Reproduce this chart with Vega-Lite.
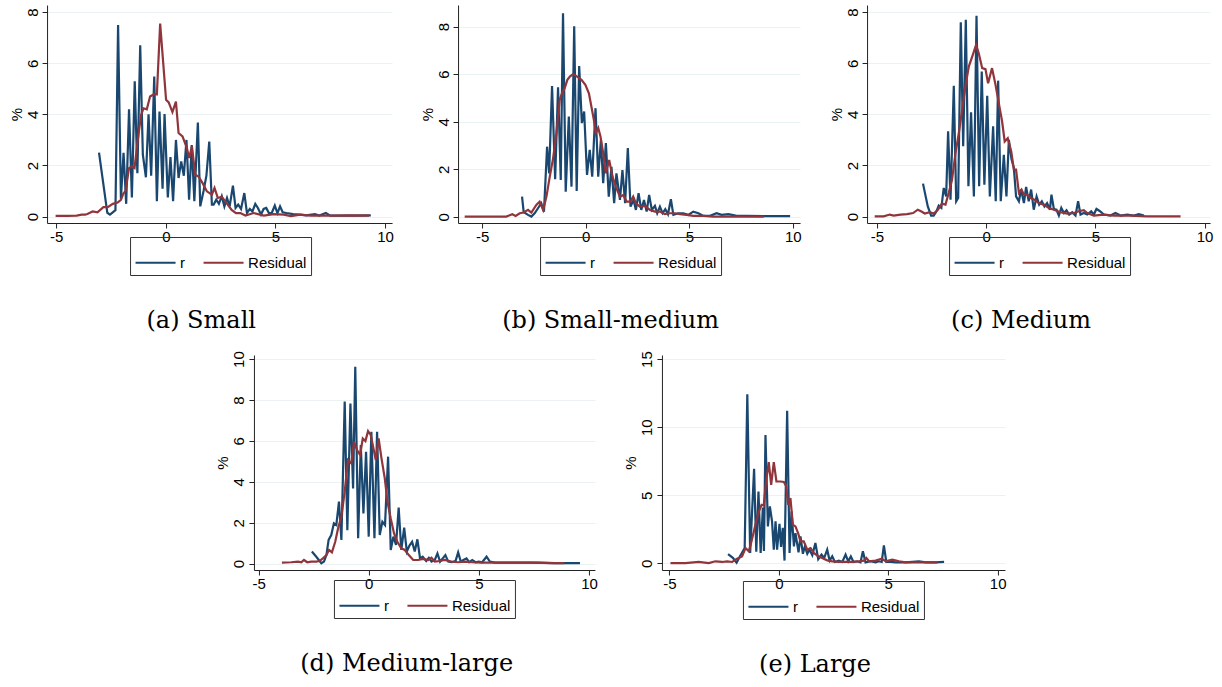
{
  "$schema": "https://vega.github.io/schema/vega-lite/v6.json",
  "background": "white",
  "padding": {"left": 9, "top": 5, "right": 2, "bottom": 2},
  "datasets": {
    "a": [
      {"s":"r","x":-3.05,"y":2.5},{"s":"r","x":-2.67,"y":0.15},{"s":"r","x":-2.55,"y":0.08},{"s":"r","x":-2.3,"y":0.25},{"s":"r","x":-2.18,"y":7.5},{"s":"r","x":-2.05,"y":0.7},{"s":"r","x":-1.93,"y":2.5},{"s":"r","x":-1.81,"y":0.5},{"s":"r","x":-1.68,"y":4.2},{"s":"r","x":-1.55,"y":0.75},{"s":"r","x":-1.42,"y":5.3},{"s":"r","x":-1.3,"y":1.7},{"s":"r","x":-1.17,"y":6.7},{"s":"r","x":-1.05,"y":2.42},{"s":"r","x":-0.91,"y":1.54},{"s":"r","x":-0.79,"y":4.0},{"s":"r","x":-0.67,"y":1.6},{"s":"r","x":-0.53,"y":5.48},{"s":"r","x":-0.41,"y":0.6},{"s":"r","x":-0.29,"y":4.11},{"s":"r","x":-0.15,"y":1.09},{"s":"r","x":-0.06,"y":4.01},{"s":"r","x":0.09,"y":0.75},{"s":"r","x":0.21,"y":2.33},{"s":"r","x":0.33,"y":0.6},{"s":"r","x":0.46,"y":3.0},{"s":"r","x":0.58,"y":1.51},{"s":"r","x":0.7,"y":2.16},{"s":"r","x":0.82,"y":1.6},{"s":"r","x":0.94,"y":3.0},{"s":"r","x":1.06,"y":0.66},{"s":"r","x":1.18,"y":2.8},{"s":"r","x":1.3,"y":0.6},{"s":"r","x":1.46,"y":3.68},{"s":"r","x":1.57,"y":0.4},{"s":"r","x":1.72,"y":1.0},{"s":"r","x":1.85,"y":1.6},{"s":"r","x":1.98,"y":2.94},{"s":"r","x":2.1,"y":0.47},{"s":"r","x":2.18,"y":0.47},{"s":"r","x":2.3,"y":0.66},{"s":"r","x":2.42,"y":0.5},{"s":"r","x":2.55,"y":0.8},{"s":"r","x":2.67,"y":0.4},{"s":"r","x":2.79,"y":0.73},{"s":"r","x":2.91,"y":0.4},{"s":"r","x":3.06,"y":1.21},{"s":"r","x":3.18,"y":0.34},{"s":"r","x":3.3,"y":0.47},{"s":"r","x":3.43,"y":0.3},{"s":"r","x":3.58,"y":0.92},{"s":"r","x":3.7,"y":0.14},{"s":"r","x":3.83,"y":0.3},{"s":"r","x":3.95,"y":0.2},{"s":"r","x":4.08,"y":0.5},{"s":"r","x":4.2,"y":0.34},{"s":"r","x":4.34,"y":0.08},{"s":"r","x":4.46,"y":0.3},{"s":"r","x":4.58,"y":0.34},{"s":"r","x":4.7,"y":0.14},{"s":"r","x":4.83,"y":0.14},{"s":"r","x":4.97,"y":0.43},{"s":"r","x":5.09,"y":0.14},{"s":"r","x":5.21,"y":0.4},{"s":"r","x":5.33,"y":0.17},{"s":"r","x":5.5,"y":0.14},{"s":"r","x":5.8,"y":0.1},{"s":"r","x":6.1,"y":0.08},{"s":"r","x":6.4,"y":0.05},{"s":"r","x":6.8,"y":0.1},{"s":"r","x":7.0,"y":0.04},{"s":"r","x":7.3,"y":0.14},{"s":"r","x":7.5,"y":0.04},{"s":"r","x":8.0,"y":0.04},{"s":"r","x":8.6,"y":0.04},{"s":"r","x":9.35,"y":0.05},
      {"s":"Residual","x":-5.03,"y":0.03},{"s":"Residual","x":-4.5,"y":0.03},{"s":"Residual","x":-4.07,"y":0.04},{"s":"Residual","x":-3.84,"y":0.08},{"s":"Residual","x":-3.68,"y":0.08},{"s":"Residual","x":-3.58,"y":0.1},{"s":"Residual","x":-3.34,"y":0.2},{"s":"Residual","x":-3.12,"y":0.17},{"s":"Residual","x":-2.85,"y":0.37},{"s":"Residual","x":-2.65,"y":0.37},{"s":"Residual","x":-2.42,"y":0.5},{"s":"Residual","x":-2.2,"y":0.55},{"s":"Residual","x":-2.05,"y":0.66},{"s":"Residual","x":-1.94,"y":0.9},{"s":"Residual","x":-1.84,"y":1.0},{"s":"Residual","x":-1.68,"y":1.9},{"s":"Residual","x":-1.56,"y":1.97},{"s":"Residual","x":-1.43,"y":1.9},{"s":"Residual","x":-1.3,"y":2.88},{"s":"Residual","x":-1.13,"y":3.98},{"s":"Residual","x":-1.02,"y":4.24},{"s":"Residual","x":-0.87,"y":4.2},{"s":"Residual","x":-0.72,"y":4.7},{"s":"Residual","x":-0.56,"y":4.78},{"s":"Residual","x":-0.41,"y":4.78},{"s":"Residual","x":-0.26,"y":7.55},{"s":"Residual","x":0.01,"y":4.57},{"s":"Residual","x":0.13,"y":4.47},{"s":"Residual","x":0.3,"y":4.09},{"s":"Residual","x":0.46,"y":4.5},{"s":"Residual","x":0.58,"y":3.27},{"s":"Residual","x":0.76,"y":3.14},{"s":"Residual","x":0.96,"y":2.68},{"s":"Residual","x":1.06,"y":2.29},{"s":"Residual","x":1.19,"y":2.75},{"s":"Residual","x":1.34,"y":1.64},{"s":"Residual","x":1.49,"y":1.57},{"s":"Residual","x":1.67,"y":1.32},{"s":"Residual","x":1.87,"y":0.99},{"s":"Residual","x":2.1,"y":0.86},{"s":"Residual","x":2.22,"y":1.12},{"s":"Residual","x":2.37,"y":0.73},{"s":"Residual","x":2.55,"y":0.78},{"s":"Residual","x":2.78,"y":0.52},{"s":"Residual","x":3.0,"y":0.26},{"s":"Residual","x":3.2,"y":0.14},{"s":"Residual","x":3.4,"y":0.14},{"s":"Residual","x":3.63,"y":0.04},{"s":"Residual","x":4.0,"y":0.14},{"s":"Residual","x":4.47,"y":0.04},{"s":"Residual","x":4.92,"y":0.1},{"s":"Residual","x":5.38,"y":0.08},{"s":"Residual","x":5.7,"y":0.02},{"s":"Residual","x":6.14,"y":0.08},{"s":"Residual","x":6.6,"y":0.04},{"s":"Residual","x":7.67,"y":0.04},{"s":"Residual","x":8.43,"y":0.05},{"s":"Residual","x":9.27,"y":0.04}
    ],
    "b": [
      {"s":"r","x":-3.08,"y":0.85},{"s":"r","x":-3.0,"y":0.2},{"s":"r","x":-2.79,"y":0.08},{"s":"r","x":-2.63,"y":0.01},{"s":"r","x":-2.47,"y":0.15},{"s":"r","x":-2.31,"y":0.36},{"s":"r","x":-2.15,"y":0.57},{"s":"r","x":-2.02,"y":0.22},{"s":"r","x":-1.87,"y":2.95},{"s":"r","x":-1.77,"y":1.83},{"s":"r","x":-1.63,"y":5.5},{"s":"r","x":-1.48,"y":1.58},{"s":"r","x":-1.34,"y":5.45},{"s":"r","x":-1.21,"y":1.55},{"s":"r","x":-1.1,"y":8.56},{"s":"r","x":-0.97,"y":1.06},{"s":"r","x":-0.82,"y":4.22},{"s":"r","x":-0.69,"y":1.27},{"s":"r","x":-0.56,"y":8.02},{"s":"r","x":-0.44,"y":1.09},{"s":"r","x":-0.32,"y":6.34},{"s":"r","x":-0.19,"y":3.94},{"s":"r","x":-0.08,"y":4.43},{"s":"r","x":0.06,"y":1.76},{"s":"r","x":0.19,"y":2.82},{"s":"r","x":0.31,"y":1.69},{"s":"r","x":0.47,"y":4.57},{"s":"r","x":0.6,"y":1.69},{"s":"r","x":0.73,"y":3.24},{"s":"r","x":0.84,"y":1.41},{"s":"r","x":0.97,"y":3.1},{"s":"r","x":1.11,"y":0.85},{"s":"r","x":1.24,"y":2.1},{"s":"r","x":1.37,"y":0.57},{"s":"r","x":1.48,"y":1.83},{"s":"r","x":1.65,"y":0.71},{"s":"r","x":1.77,"y":1.97},{"s":"r","x":1.9,"y":0.57},{"s":"r","x":2.03,"y":2.89},{"s":"r","x":2.16,"y":0.43},{"s":"r","x":2.31,"y":0.71},{"s":"r","x":2.42,"y":0.29},{"s":"r","x":2.55,"y":0.99},{"s":"r","x":2.68,"y":0.29},{"s":"r","x":2.81,"y":0.71},{"s":"r","x":2.94,"y":0.22},{"s":"r","x":3.06,"y":0.92},{"s":"r","x":3.19,"y":0.29},{"s":"r","x":3.34,"y":0.46},{"s":"r","x":3.45,"y":0.15},{"s":"r","x":3.58,"y":0.43},{"s":"r","x":3.71,"y":0.15},{"s":"r","x":3.84,"y":0.32},{"s":"r","x":3.97,"y":0.11},{"s":"r","x":4.11,"y":0.74},{"s":"r","x":4.23,"y":0.08},{"s":"r","x":4.47,"y":0.15},{"s":"r","x":4.71,"y":0.15},{"s":"r","x":4.95,"y":0.08},{"s":"r","x":5.19,"y":0.22},{"s":"r","x":5.44,"y":0.15},{"s":"r","x":5.68,"y":0.04},{"s":"r","x":6.0,"y":0.04},{"s":"r","x":6.32,"y":0.15},{"s":"r","x":6.56,"y":0.08},{"s":"r","x":6.89,"y":0.11},{"s":"r","x":7.29,"y":0.04},{"s":"r","x":7.77,"y":0.04},{"s":"r","x":8.74,"y":0.03},{"s":"r","x":9.87,"y":0.03},
      {"s":"Residual","x":-5.85,"y":0.01},{"s":"Residual","x":-3.84,"y":0.01},{"s":"Residual","x":-3.55,"y":0.11},{"s":"Residual","x":-3.39,"y":0.04},{"s":"Residual","x":-3.19,"y":0.15},{"s":"Residual","x":-3.0,"y":0.18},{"s":"Residual","x":-2.79,"y":0.29},{"s":"Residual","x":-2.63,"y":0.18},{"s":"Residual","x":-2.39,"y":0.5},{"s":"Residual","x":-2.23,"y":0.64},{"s":"Residual","x":-2.06,"y":0.29},{"s":"Residual","x":-1.9,"y":0.85},{"s":"Residual","x":-1.74,"y":1.69},{"s":"Residual","x":-1.58,"y":2.46},{"s":"Residual","x":-1.42,"y":3.52},{"s":"Residual","x":-1.26,"y":4.92},{"s":"Residual","x":-1.15,"y":5.2},{"s":"Residual","x":-1.02,"y":5.41},{"s":"Residual","x":-0.89,"y":5.76},{"s":"Residual","x":-0.77,"y":5.9},{"s":"Residual","x":-0.61,"y":6.0},{"s":"Residual","x":-0.42,"y":5.9},{"s":"Residual","x":-0.21,"y":5.76},{"s":"Residual","x":-0.02,"y":5.55},{"s":"Residual","x":0.15,"y":5.2},{"s":"Residual","x":0.27,"y":4.64},{"s":"Residual","x":0.39,"y":4.08},{"s":"Residual","x":0.48,"y":3.52},{"s":"Residual","x":0.6,"y":3.74},{"s":"Residual","x":0.71,"y":3.38},{"s":"Residual","x":0.84,"y":2.68},{"s":"Residual","x":0.97,"y":1.83},{"s":"Residual","x":1.13,"y":2.39},{"s":"Residual","x":1.29,"y":1.69},{"s":"Residual","x":1.45,"y":1.27},{"s":"Residual","x":1.65,"y":0.85},{"s":"Residual","x":1.81,"y":0.92},{"s":"Residual","x":1.97,"y":0.64},{"s":"Residual","x":2.16,"y":0.64},{"s":"Residual","x":2.29,"y":0.85},{"s":"Residual","x":2.42,"y":0.57},{"s":"Residual","x":2.61,"y":0.43},{"s":"Residual","x":2.85,"y":0.46},{"s":"Residual","x":3.1,"y":0.29},{"s":"Residual","x":3.34,"y":0.22},{"s":"Residual","x":3.58,"y":0.22},{"s":"Residual","x":3.82,"y":0.11},{"s":"Residual","x":4.06,"y":0.15},{"s":"Residual","x":4.31,"y":0.15},{"s":"Residual","x":4.55,"y":0.11},{"s":"Residual","x":4.87,"y":0.08},{"s":"Residual","x":5.19,"y":0.04},{"s":"Residual","x":5.68,"y":0.04},{"s":"Residual","x":6.16,"y":0.01},{"s":"Residual","x":6.81,"y":0.01},{"s":"Residual","x":7.45,"y":0.01},{"s":"Residual","x":8.6,"y":0.01}
    ],
    "c": [
      {"s":"r","x":-2.89,"y":1.29},{"s":"r","x":-2.67,"y":0.4},{"s":"r","x":-2.52,"y":0.04},{"s":"r","x":-2.4,"y":0.04},{"s":"r","x":-2.27,"y":0.21},{"s":"r","x":-2.17,"y":0.43},{"s":"r","x":-2.05,"y":0.34},{"s":"r","x":-1.94,"y":1.12},{"s":"r","x":-1.83,"y":0.79},{"s":"r","x":-1.74,"y":3.34},{"s":"r","x":-1.63,"y":0.66},{"s":"r","x":-1.48,"y":5.12},{"s":"r","x":-1.37,"y":0.6},{"s":"r","x":-1.28,"y":0.73},{"s":"r","x":-1.16,"y":7.6},{"s":"r","x":-1.05,"y":2.75},{"s":"r","x":-0.93,"y":7.7},{"s":"r","x":-0.81,"y":1.19},{"s":"r","x":-0.69,"y":4.08},{"s":"r","x":-0.56,"y":0.79},{"s":"r","x":-0.44,"y":7.86},{"s":"r","x":-0.32,"y":1.19},{"s":"r","x":-0.2,"y":5.68},{"s":"r","x":-0.08,"y":1.25},{"s":"r","x":0.05,"y":4.73},{"s":"r","x":0.17,"y":0.79},{"s":"r","x":0.32,"y":3.53},{"s":"r","x":0.44,"y":0.6},{"s":"r","x":0.55,"y":5.32},{"s":"r","x":0.67,"y":0.6},{"s":"r","x":0.81,"y":2.42},{"s":"r","x":0.93,"y":0.79},{"s":"r","x":1.04,"y":3.0},{"s":"r","x":1.16,"y":2.25},{"s":"r","x":1.27,"y":1.9},{"s":"r","x":1.37,"y":0.79},{"s":"r","x":1.5,"y":0.6},{"s":"r","x":1.6,"y":1.06},{"s":"r","x":1.73,"y":0.53},{"s":"r","x":1.83,"y":1.16},{"s":"r","x":1.95,"y":0.6},{"s":"r","x":2.06,"y":1.06},{"s":"r","x":2.18,"y":0.27},{"s":"r","x":2.31,"y":0.79},{"s":"r","x":2.43,"y":0.47},{"s":"r","x":2.55,"y":0.6},{"s":"r","x":2.67,"y":0.4},{"s":"r","x":2.79,"y":0.53},{"s":"r","x":2.92,"y":0.27},{"s":"r","x":2.99,"y":0.86},{"s":"r","x":3.1,"y":0.3},{"s":"r","x":3.22,"y":0.27},{"s":"r","x":3.33,"y":0.04},{"s":"r","x":3.44,"y":0.34},{"s":"r","x":3.56,"y":0.14},{"s":"r","x":3.68,"y":0.25},{"s":"r","x":3.8,"y":0.08},{"s":"r","x":3.94,"y":0.17},{"s":"r","x":4.09,"y":0.04},{"s":"r","x":4.21,"y":0.6},{"s":"r","x":4.32,"y":0.08},{"s":"r","x":4.47,"y":0.14},{"s":"r","x":4.63,"y":0.08},{"s":"r","x":4.81,"y":0.21},{"s":"r","x":4.93,"y":0.08},{"s":"r","x":5.05,"y":0.3},{"s":"r","x":5.21,"y":0.21},{"s":"r","x":5.39,"y":0.08},{"s":"r","x":5.69,"y":0.04},{"s":"r","x":5.92,"y":0.14},{"s":"r","x":6.15,"y":0.04},{"s":"r","x":6.46,"y":0.08},{"s":"r","x":6.76,"y":0.04},{"s":"r","x":6.99,"y":0.1},{"s":"r","x":7.22,"y":0.04},
      {"s":"Residual","x":-5.1,"y":0.01},{"s":"Residual","x":-4.69,"y":0.01},{"s":"Residual","x":-4.41,"y":0.08},{"s":"Residual","x":-4.23,"y":0.04},{"s":"Residual","x":-3.92,"y":0.08},{"s":"Residual","x":-3.62,"y":0.1},{"s":"Residual","x":-3.34,"y":0.14},{"s":"Residual","x":-3.13,"y":0.27},{"s":"Residual","x":-2.98,"y":0.21},{"s":"Residual","x":-2.81,"y":0.12},{"s":"Residual","x":-2.58,"y":0.17},{"s":"Residual","x":-2.4,"y":0.12},{"s":"Residual","x":-2.21,"y":0.27},{"s":"Residual","x":-2.02,"y":0.51},{"s":"Residual","x":-1.86,"y":0.47},{"s":"Residual","x":-1.71,"y":0.93},{"s":"Residual","x":-1.56,"y":1.45},{"s":"Residual","x":-1.4,"y":2.49},{"s":"Residual","x":-1.25,"y":3.27},{"s":"Residual","x":-1.1,"y":4.18},{"s":"Residual","x":-0.95,"y":5.09},{"s":"Residual","x":-0.79,"y":5.88},{"s":"Residual","x":-0.61,"y":6.33},{"s":"Residual","x":-0.46,"y":6.72},{"s":"Residual","x":-0.34,"y":6.4},{"s":"Residual","x":-0.18,"y":5.81},{"s":"Residual","x":-0.03,"y":5.77},{"s":"Residual","x":0.09,"y":5.22},{"s":"Residual","x":0.27,"y":5.81},{"s":"Residual","x":0.43,"y":5.16},{"s":"Residual","x":0.58,"y":4.44},{"s":"Residual","x":0.73,"y":3.73},{"s":"Residual","x":0.85,"y":2.94},{"s":"Residual","x":0.99,"y":3.07},{"s":"Residual","x":1.15,"y":2.55},{"s":"Residual","x":1.27,"y":1.84},{"s":"Residual","x":1.37,"y":1.84},{"s":"Residual","x":1.5,"y":0.93},{"s":"Residual","x":1.62,"y":1.06},{"s":"Residual","x":1.73,"y":0.86},{"s":"Residual","x":1.88,"y":0.86},{"s":"Residual","x":2.03,"y":0.73},{"s":"Residual","x":2.21,"y":0.66},{"s":"Residual","x":2.41,"y":0.53},{"s":"Residual","x":2.64,"y":0.47},{"s":"Residual","x":2.87,"y":0.34},{"s":"Residual","x":3.1,"y":0.27},{"s":"Residual","x":3.4,"y":0.17},{"s":"Residual","x":3.71,"y":0.12},{"s":"Residual","x":4.02,"y":0.14},{"s":"Residual","x":4.24,"y":0.21},{"s":"Residual","x":4.47,"y":0.25},{"s":"Residual","x":4.63,"y":0.14},{"s":"Residual","x":4.93,"y":0.04},{"s":"Residual","x":5.39,"y":0.08},{"s":"Residual","x":5.85,"y":0.04},{"s":"Residual","x":6.61,"y":0.04},{"s":"Residual","x":7.37,"y":0.01},{"s":"Residual","x":8.14,"y":0.01},{"s":"Residual","x":8.9,"y":0.01}
    ],
    "d": [
      {"s":"r","x":-2.58,"y":0.59},{"s":"r","x":-2.38,"y":0.34},{"s":"r","x":-2.15,"y":0.02},{"s":"r","x":-2.03,"y":0.1},{"s":"r","x":-1.92,"y":0.42},{"s":"r","x":-1.82,"y":1.16},{"s":"r","x":-1.7,"y":1.4},{"s":"r","x":-1.58,"y":1.97},{"s":"r","x":-1.47,"y":1.89},{"s":"r","x":-1.35,"y":3.03},{"s":"r","x":-1.24,"y":1.16},{"s":"r","x":-1.09,"y":7.92},{"s":"r","x":-0.97,"y":1.64},{"s":"r","x":-0.83,"y":7.83},{"s":"r","x":-0.71,"y":3.68},{"s":"r","x":-0.61,"y":9.63},{"s":"r","x":-0.48,"y":1.24},{"s":"r","x":-0.36,"y":5.8},{"s":"r","x":-0.24,"y":2.46},{"s":"r","x":-0.12,"y":5.47},{"s":"r","x":0.0,"y":1.32},{"s":"r","x":0.12,"y":6.45},{"s":"r","x":0.26,"y":1.24},{"s":"r","x":0.38,"y":6.45},{"s":"r","x":0.5,"y":1.4},{"s":"r","x":0.62,"y":2.05},{"s":"r","x":0.74,"y":1.89},{"s":"r","x":0.88,"y":5.23},{"s":"r","x":1.0,"y":0.67},{"s":"r","x":1.12,"y":1.32},{"s":"r","x":1.24,"y":0.91},{"s":"r","x":1.36,"y":2.74},{"s":"r","x":1.48,"y":0.67},{"s":"r","x":1.61,"y":1.76},{"s":"r","x":1.73,"y":0.59},{"s":"r","x":1.85,"y":0.88},{"s":"r","x":1.97,"y":1.07},{"s":"r","x":2.09,"y":0.59},{"s":"r","x":2.21,"y":1.19},{"s":"r","x":2.33,"y":0.26},{"s":"r","x":2.45,"y":0.34},{"s":"r","x":2.61,"y":0.13},{"s":"r","x":2.73,"y":0.29},{"s":"r","x":2.85,"y":0.1},{"s":"r","x":3.0,"y":0.18},{"s":"r","x":3.12,"y":0.5},{"s":"r","x":3.24,"y":0.1},{"s":"r","x":3.36,"y":0.26},{"s":"r","x":3.48,"y":0.42},{"s":"r","x":3.61,"y":0.1},{"s":"r","x":3.76,"y":0.07},{"s":"r","x":3.94,"y":0.13},{"s":"r","x":4.06,"y":0.55},{"s":"r","x":4.18,"y":0.1},{"s":"r","x":4.3,"y":0.18},{"s":"r","x":4.44,"y":0.26},{"s":"r","x":4.56,"y":0.07},{"s":"r","x":4.7,"y":0.18},{"s":"r","x":4.85,"y":0.07},{"s":"r","x":5.0,"y":0.1},{"s":"r","x":5.15,"y":0.07},{"s":"r","x":5.35,"y":0.34},{"s":"r","x":5.5,"y":0.1},{"s":"r","x":5.73,"y":0.05},{"s":"r","x":6.18,"y":0.05},{"s":"r","x":6.94,"y":0.05},{"s":"r","x":7.7,"y":0.05},{"s":"r","x":8.45,"y":0.03},{"s":"r","x":9.59,"y":0.03},
      {"s":"Residual","x":-3.94,"y":0.05},{"s":"Residual","x":-3.52,"y":0.07},{"s":"Residual","x":-3.21,"y":0.1},{"s":"Residual","x":-3.06,"y":0.07},{"s":"Residual","x":-2.94,"y":0.18},{"s":"Residual","x":-2.79,"y":0.07},{"s":"Residual","x":-2.61,"y":0.1},{"s":"Residual","x":-2.38,"y":0.1},{"s":"Residual","x":-2.23,"y":0.13},{"s":"Residual","x":-2.08,"y":0.26},{"s":"Residual","x":-1.92,"y":0.42},{"s":"Residual","x":-1.8,"y":0.67},{"s":"Residual","x":-1.67,"y":0.55},{"s":"Residual","x":-1.52,"y":1.07},{"s":"Residual","x":-1.39,"y":1.73},{"s":"Residual","x":-1.24,"y":2.3},{"s":"Residual","x":-1.09,"y":3.52},{"s":"Residual","x":-0.94,"y":5.07},{"s":"Residual","x":-0.79,"y":4.9},{"s":"Residual","x":-0.67,"y":5.96},{"s":"Residual","x":-0.53,"y":5.55},{"s":"Residual","x":-0.39,"y":5.31},{"s":"Residual","x":-0.27,"y":6.12},{"s":"Residual","x":-0.15,"y":5.99},{"s":"Residual","x":-0.03,"y":6.48},{"s":"Residual","x":0.09,"y":6.29},{"s":"Residual","x":0.2,"y":5.72},{"s":"Residual","x":0.32,"y":5.07},{"s":"Residual","x":0.45,"y":6.12},{"s":"Residual","x":0.58,"y":5.15},{"s":"Residual","x":0.73,"y":4.17},{"s":"Residual","x":0.85,"y":3.03},{"s":"Residual","x":1.0,"y":2.21},{"s":"Residual","x":1.15,"y":1.48},{"s":"Residual","x":1.3,"y":1.07},{"s":"Residual","x":1.48,"y":0.75},{"s":"Residual","x":1.64,"y":0.67},{"s":"Residual","x":1.82,"y":0.42},{"s":"Residual","x":2.02,"y":0.18},{"s":"Residual","x":2.24,"y":0.18},{"s":"Residual","x":2.47,"y":0.23},{"s":"Residual","x":2.7,"y":0.18},{"s":"Residual","x":2.85,"y":0.29},{"s":"Residual","x":3.0,"y":0.1},{"s":"Residual","x":3.23,"y":0.13},{"s":"Residual","x":3.45,"y":0.18},{"s":"Residual","x":3.76,"y":0.1},{"s":"Residual","x":4.06,"y":0.07},{"s":"Residual","x":4.36,"y":0.1},{"s":"Residual","x":4.67,"y":0.07},{"s":"Residual","x":5.12,"y":0.05},{"s":"Residual","x":5.73,"y":0.05},{"s":"Residual","x":6.48,"y":0.05},{"s":"Residual","x":7.39,"y":0.05},{"s":"Residual","x":8.3,"y":0.03},{"s":"Residual","x":8.88,"y":0.03}
    ],
    "e": [
      {"s":"r","x":-2.32,"y":0.68},{"s":"r","x":-2.1,"y":0.4},{"s":"r","x":-1.93,"y":0.05},{"s":"r","x":-1.78,"y":0.5},{"s":"r","x":-1.56,"y":1.12},{"s":"r","x":-1.44,"y":12.41},{"s":"r","x":-1.31,"y":0.76},{"s":"r","x":-1.13,"y":6.95},{"s":"r","x":-1.03,"y":0.85},{"s":"r","x":-0.93,"y":5.28},{"s":"r","x":-0.83,"y":0.76},{"s":"r","x":-0.73,"y":4.1},{"s":"r","x":-0.68,"y":0.9},{"s":"r","x":-0.61,"y":9.43},{"s":"r","x":-0.5,"y":2.71},{"s":"r","x":-0.41,"y":4.18},{"s":"r","x":-0.31,"y":3.08},{"s":"r","x":-0.23,"y":1.0},{"s":"r","x":-0.15,"y":3.08},{"s":"r","x":-0.08,"y":1.0},{"s":"r","x":0.03,"y":2.9},{"s":"r","x":0.1,"y":1.2},{"s":"r","x":0.18,"y":2.6},{"s":"r","x":0.26,"y":0.2},{"s":"r","x":0.38,"y":11.2},{"s":"r","x":0.49,"y":0.76},{"s":"r","x":0.58,"y":3.81},{"s":"r","x":0.69,"y":1.25},{"s":"r","x":0.76,"y":2.22},{"s":"r","x":0.9,"y":0.8},{"s":"r","x":0.99,"y":1.98},{"s":"r","x":1.1,"y":0.7},{"s":"r","x":1.19,"y":1.25},{"s":"r","x":1.3,"y":0.7},{"s":"r","x":1.4,"y":1.0},{"s":"r","x":1.53,"y":0.6},{"s":"r","x":1.67,"y":1.5},{"s":"r","x":1.8,"y":0.3},{"s":"r","x":1.95,"y":0.64},{"s":"r","x":2.07,"y":0.39},{"s":"r","x":2.21,"y":1.0},{"s":"r","x":2.32,"y":0.2},{"s":"r","x":2.44,"y":0.51},{"s":"r","x":2.56,"y":0.1},{"s":"r","x":2.74,"y":0.2},{"s":"r","x":2.9,"y":0.1},{"s":"r","x":3.05,"y":0.64},{"s":"r","x":3.17,"y":0.15},{"s":"r","x":3.29,"y":0.51},{"s":"r","x":3.41,"y":0.1},{"s":"r","x":3.58,"y":0.15},{"s":"r","x":3.73,"y":0.07},{"s":"r","x":3.84,"y":0.88},{"s":"r","x":3.96,"y":0.07},{"s":"r","x":4.19,"y":0.15},{"s":"r","x":4.42,"y":0.07},{"s":"r","x":4.57,"y":0.15},{"s":"r","x":4.7,"y":0.1},{"s":"r","x":4.8,"y":1.32},{"s":"r","x":4.91,"y":0.1},{"s":"r","x":5.11,"y":0.1},{"s":"r","x":5.34,"y":0.07},{"s":"r","x":5.79,"y":0.07},{"s":"r","x":6.4,"y":0.15},{"s":"r","x":6.71,"y":0.07},{"s":"r","x":7.16,"y":0.07},{"s":"r","x":7.55,"y":0.1},
      {"s":"Residual","x":-4.95,"y":0.02},{"s":"Residual","x":-4.27,"y":0.02},{"s":"Residual","x":-3.66,"y":0.1},{"s":"Residual","x":-3.2,"y":0.02},{"s":"Residual","x":-2.9,"y":0.15},{"s":"Residual","x":-2.59,"y":0.1},{"s":"Residual","x":-2.36,"y":0.15},{"s":"Residual","x":-2.13,"y":0.1},{"s":"Residual","x":-1.91,"y":0.34},{"s":"Residual","x":-1.68,"y":0.51},{"s":"Residual","x":-1.52,"y":1.12},{"s":"Residual","x":-1.37,"y":0.88},{"s":"Residual","x":-1.25,"y":1.61},{"s":"Residual","x":-1.07,"y":2.84},{"s":"Residual","x":-0.91,"y":3.81},{"s":"Residual","x":-0.79,"y":4.3},{"s":"Residual","x":-0.69,"y":4.25},{"s":"Residual","x":-0.58,"y":6.01},{"s":"Residual","x":-0.46,"y":7.43},{"s":"Residual","x":-0.35,"y":5.77},{"s":"Residual","x":-0.23,"y":7.43},{"s":"Residual","x":-0.11,"y":6.01},{"s":"Residual","x":0.08,"y":6.01},{"s":"Residual","x":0.23,"y":5.97},{"s":"Residual","x":0.34,"y":5.65},{"s":"Residual","x":0.43,"y":4.3},{"s":"Residual","x":0.53,"y":4.79},{"s":"Residual","x":0.64,"y":2.84},{"s":"Residual","x":0.76,"y":2.71},{"s":"Residual","x":0.88,"y":2.22},{"s":"Residual","x":0.99,"y":1.61},{"s":"Residual","x":1.14,"y":1.61},{"s":"Residual","x":1.3,"y":1.0},{"s":"Residual","x":1.45,"y":1.12},{"s":"Residual","x":1.6,"y":0.76},{"s":"Residual","x":1.8,"y":0.51},{"s":"Residual","x":1.98,"y":0.39},{"s":"Residual","x":2.21,"y":0.22},{"s":"Residual","x":2.44,"y":0.15},{"s":"Residual","x":2.74,"y":0.1},{"s":"Residual","x":3.05,"y":0.1},{"s":"Residual","x":3.35,"y":0.1},{"s":"Residual","x":3.66,"y":0.15},{"s":"Residual","x":3.89,"y":0.2},{"s":"Residual","x":4.0,"y":0.39},{"s":"Residual","x":4.12,"y":0.15},{"s":"Residual","x":4.42,"y":0.2},{"s":"Residual","x":4.7,"y":0.34},{"s":"Residual","x":4.88,"y":0.15},{"s":"Residual","x":5.18,"y":0.27},{"s":"Residual","x":5.49,"y":0.15},{"s":"Residual","x":5.79,"y":0.07},{"s":"Residual","x":6.4,"y":0.07},{"s":"Residual","x":7.24,"y":0.07}
    ]
  },
  "spacing": 17,
  "center": true,
  "resolve": {"scale": {"color": "independent"}, "legend": {"color": "independent"}},
  "vconcat": [
    {
      "spacing": 26,
      "resolve": {"scale": {"color": "independent"}, "legend": {"color": "independent"}},
      "hconcat": [
        {
          "data": {"name": "a"},
          "width": 345, "height": 218,
          "title": {"text": "(a) Small"},
          "encoding": {
            "x": {"field": "x", "type": "quantitative", "scale": {"domain": [-5.42, 10.32], "nice": false, "zero": false}, "axis": {"values": [-5, 0, 5, 10], "title": null, "labelExpr": "toString(datum.value)", "labelFontSize": 15}},
            "y": {"field": "y", "type": "quantitative", "scale": {"domain": [-0.25, 8.28], "nice": false, "zero": false}, "axis": {"values": [0, 2, 4, 6, 8], "title": "%", "labelFontSize": 15, "titleFontSize": 15}},
            "color": {"field": "s", "type": "nominal", "scale": {"domain": ["r", "Residual"], "range": ["#1a476f", "#90353b"]}, "legend": {"title": null, "legendX": 83, "legendY": 232}}
          },
          "layer": [
            {"transform": [{"filter": "datum.s == 'r'"}], "mark": {"type": "line", "strokeWidth": 2.2}},
            {"transform": [{"filter": "datum.s == 'Residual'"}], "mark": {"type": "line", "strokeWidth": 2.2}}
          ]
        },
        {
          "data": {"name": "b"},
          "width": 342, "height": 218,
          "title": {"text": "(b) Small-medium"},
          "encoding": {
            "x": {"field": "x", "type": "quantitative", "scale": {"domain": [-6.17, 10.35], "nice": false, "zero": false}, "axis": {"values": [-5, 0, 5, 10], "title": null, "labelExpr": "toString(datum.value)", "labelFontSize": 15}},
            "y": {"field": "y", "type": "quantitative", "scale": {"domain": [-0.26, 8.91], "nice": false, "zero": false}, "axis": {"values": [0, 2, 4, 6, 8], "title": "%", "labelFontSize": 15, "titleFontSize": 15}},
            "color": {"field": "s", "type": "nominal", "scale": {"domain": ["r", "Residual"], "range": ["#1a476f", "#90353b"]}, "legend": {"title": null, "legendX": 82, "legendY": 232}}
          },
          "layer": [
            {"transform": [{"filter": "datum.s == 'r'"}], "mark": {"type": "line", "strokeWidth": 2.2}},
            {"transform": [{"filter": "datum.s == 'Residual'"}], "mark": {"type": "line", "strokeWidth": 2.2}}
          ]
        },
        {
          "data": {"name": "c"},
          "width": 343, "height": 218,
          "title": {"text": "(c) Medium"},
          "encoding": {
            "x": {"field": "x", "type": "quantitative", "scale": {"domain": [-5.45, 10.25], "nice": false, "zero": false}, "axis": {"values": [-5, 0, 5, 10], "title": null, "labelExpr": "toString(datum.value)", "labelFontSize": 15}},
            "y": {"field": "y", "type": "quantitative", "scale": {"domain": [-0.25, 8.28], "nice": false, "zero": false}, "axis": {"values": [0, 2, 4, 6, 8], "title": "%", "labelFontSize": 15, "titleFontSize": 15}},
            "color": {"field": "s", "type": "nominal", "scale": {"domain": ["r", "Residual"], "range": ["#1a476f", "#90353b"]}, "legend": {"title": null, "legendX": 82, "legendY": 232}}
          },
          "layer": [
            {"transform": [{"filter": "datum.s == 'r'"}], "mark": {"type": "line", "strokeWidth": 2.2}},
            {"transform": [{"filter": "datum.s == 'Residual'"}], "mark": {"type": "line", "strokeWidth": 2.2}}
          ]
        }
      ]
    },
    {
      "spacing": 26,
      "resolve": {"scale": {"color": "independent"}, "legend": {"color": "independent"}},
      "hconcat": [
        {
          "data": {"name": "d"},
          "width": 341, "height": 215,
          "title": {"text": "(d) Medium-large"},
          "encoding": {
            "x": {"field": "x", "type": "quantitative", "scale": {"domain": [-5.21, 10.27], "nice": false, "zero": false}, "axis": {"values": [-5, 0, 5, 10], "title": null, "labelExpr": "toString(datum.value)", "labelFontSize": 15}},
            "y": {"field": "y", "type": "quantitative", "scale": {"domain": [-0.31, 10.2], "nice": false, "zero": false}, "axis": {"values": [0, 2, 4, 6, 8, 10], "title": "%", "labelFontSize": 15, "titleFontSize": 15}},
            "color": {"field": "s", "type": "nominal", "scale": {"domain": ["r", "Residual"], "range": ["#1a476f", "#90353b"]}, "legend": {"title": null, "legendX": 80, "legendY": 225}}
          },
          "layer": [
            {"transform": [{"filter": "datum.s == 'r'"}], "mark": {"type": "line", "strokeWidth": 2.2}},
            {"transform": [{"filter": "datum.s == 'Residual'"}], "mark": {"type": "line", "strokeWidth": 2.2}}
          ]
        },
        {
          "data": {"name": "e"},
          "width": 343, "height": 215,
          "title": {"text": "(e) Large"},
          "encoding": {
            "x": {"field": "x", "type": "quantitative", "scale": {"domain": [-5.34, 10.33], "nice": false, "zero": false}, "axis": {"values": [-5, 0, 5, 10], "title": null, "labelExpr": "toString(datum.value)", "labelFontSize": 15}},
            "y": {"field": "y", "type": "quantitative", "scale": {"domain": [-0.49, 15.3], "nice": false, "zero": false}, "axis": {"values": [0, 5, 10, 15], "title": "%", "labelFontSize": 15, "titleFontSize": 15}},
            "color": {"field": "s", "type": "nominal", "scale": {"domain": ["r", "Residual"], "range": ["#1a476f", "#90353b"]}, "legend": {"title": null, "legendX": 81, "legendY": 226}}
          },
          "layer": [
            {"transform": [{"filter": "datum.s == 'r'"}], "mark": {"type": "line", "strokeWidth": 2.2}},
            {"transform": [{"filter": "datum.s == 'Residual'"}], "mark": {"type": "line", "strokeWidth": 2.2}}
          ]
        }
      ]
    }
  ],
  "config": {
    "font": "Liberation Sans",
    "view": {"stroke": null},
    "axis": {
      "domainColor": "#222222", "domainWidth": 1, "tickColor": "#222222", "tickSize": 5, "tickWidth": 1,
      "labelFont": "Liberation Sans", "labelFontSize": 15, "labelColor": "#000000",
      "titleFont": "Liberation Sans", "titleFontSize": 15, "titleFontWeight": "normal", "titleColor": "#000000",
      "gridColor": "#eaf2f3", "gridWidth": 1
    },
    "axisX": {"grid": false, "labelPadding": 1, "labelFlush": false},
    "axisY": {"grid": true, "labelAngle": -90, "labelPadding": 2, "titlePadding": 1},
    "legend": {
      "orient": "none", "direction": "horizontal", "symbolType": "stroke", "symbolSize": 1600, "symbolStrokeWidth": 2.2,
      "labelFont": "Liberation Sans", "labelFontSize": 15, "labelColor": "#000000", "labelOffset": 3, "labelLimit": 0,
      "columnPadding": 14, "padding": 4, "strokeColor": "#333333"
    },
    "title": {"orient": "bottom", "anchor": "middle", "frame": "bounds", "font": "DejaVu Serif", "fontSize": 24, "fontWeight": "normal", "color": "#000000", "offset": 33}
  }
}
